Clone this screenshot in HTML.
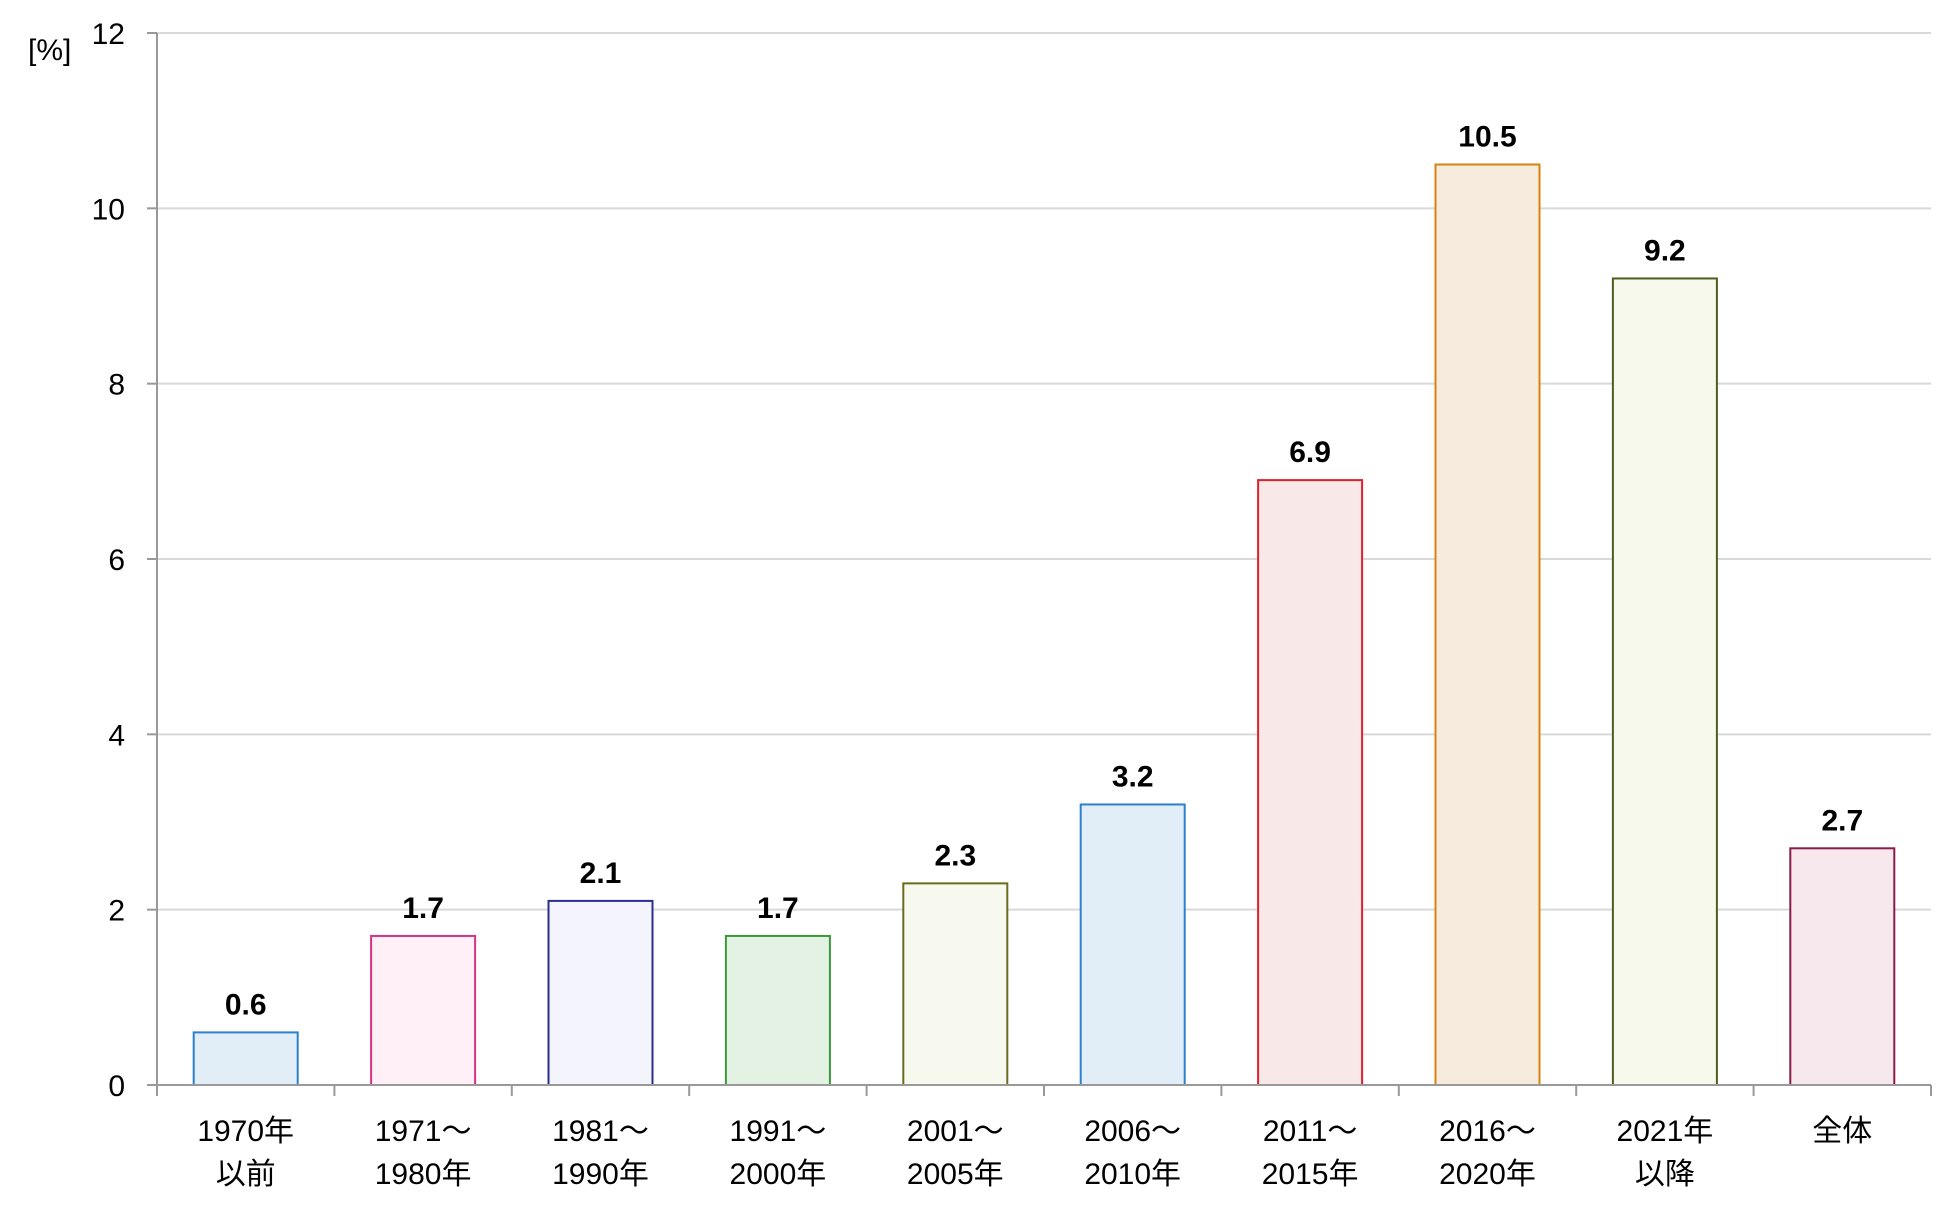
<!DOCTYPE html>
<html><head><meta charset="utf-8"><style>
html,body{margin:0;padding:0;background:#fff;}
svg{display:block;font-family:"Liberation Sans","Noto Sans CJK JP",sans-serif;}
</style></head><body>
<svg id="chart" width="1956" height="1208" xmlns="http://www.w3.org/2000/svg">
<g id="grid"></g>
<g id="bars"></g>
<g id="axes"></g>
<text x="28" y="60" font-size="30" fill="#000">[%]</text>
</svg>
<script>
const categories = [["1970年","以前"],["1971～","1980年"],["1981～","1990年"],["1991～","2000年"],["2001～","2005年"],["2006～","2010年"],["2011～","2015年"],["2016～","2020年"],["2021年","以降"],["全体"]];
const values = [0.6,1.7,2.1,1.7,2.3,3.2,6.9,10.5,9.2,2.7];
const valueLabels = ["0.6","1.7","2.1","1.7","2.3","3.2","6.9","10.5","9.2","2.7"];
const yTicks = [0,2,4,6,8,10,12];
const fills = ["#e1eef7","#fff0f7","#f3f4fc","#e4f2e4","#f7f9ee","#e1eef7","#f8e8e8","#f7ebdd","#f6f9ec","#f7e8ee"];
const strokes = ["#2a7fcf","#d63384","#2b2e91","#3a9a3a","#6b6b1f","#2a7fcf","#e0202a","#d9820f","#4d5e1e","#8a1c4a"];
const NS="http://www.w3.org/2000/svg";
const L=157,R=1931,T=33,B=1085,ymax=12;
const y=v=>B-(v/ymax)*(B-T);
const cw=(R-L)/categories.length;
const x=i=>L+cw*(i+0.5);
const bw=104;
function mk(tag,attrs,parent,txt){const e=document.createElementNS(NS,tag);for(const k in attrs)e.setAttribute(k,attrs[k]);if(txt!==undefined)e.textContent=txt;parent.appendChild(e);return e;}
const grid=document.getElementById('grid'),bars=document.getElementById('bars'),axes=document.getElementById('axes');
yTicks.forEach(t=>{
  if(t>0){const g=mk('line',{x1:L,x2:R,y1:y(t),y2:y(t),stroke:'#d9d9d9','stroke-width':2},grid);
  
  }
  const tk=mk('line',{x1:L-10,x2:L,y1:y(t),y2:y(t),stroke:'#999','stroke-width':2},axes);
  
  
  const lb=mk('text',{x:125,y:y(t)+11,'text-anchor':'end','font-size':30,fill:'#000'},axes,String(t));
  
  
});
values.forEach((v,i)=>{
  const r=mk('rect',{x:x(i)-bw/2,y:y(v),width:bw,height:B-y(v),fill:fills[i],stroke:strokes[i],'stroke-width':2},bars);
  
  
  const t=mk('text',{x:x(i),y:y(v)-18,'text-anchor':'middle','font-size':30,'font-weight':'bold',fill:'#000'},bars,valueLabels[i]);
  
  
  categories[i].forEach((s,j)=>{
    const c=mk('text',{x:x(i),y:1141+j*43,'text-anchor':'middle','font-size':30,fill:'#000'},axes,s);
    
    
  });
});
for(let i=0;i<=categories.length;i++){
  const tk=mk('line',{x1:L+cw*i,x2:L+cw*i,y1:B,y2:B+11,stroke:'#999','stroke-width':2},axes);
  
  
}
const ya=mk('line',{x1:L,x2:L,y1:T,y2:B,stroke:'#999','stroke-width':2},axes);


const xa=mk('line',{x1:L-10,x2:R,y1:B,y2:B,stroke:'#999','stroke-width':2},axes);


</script>
</body></html>
